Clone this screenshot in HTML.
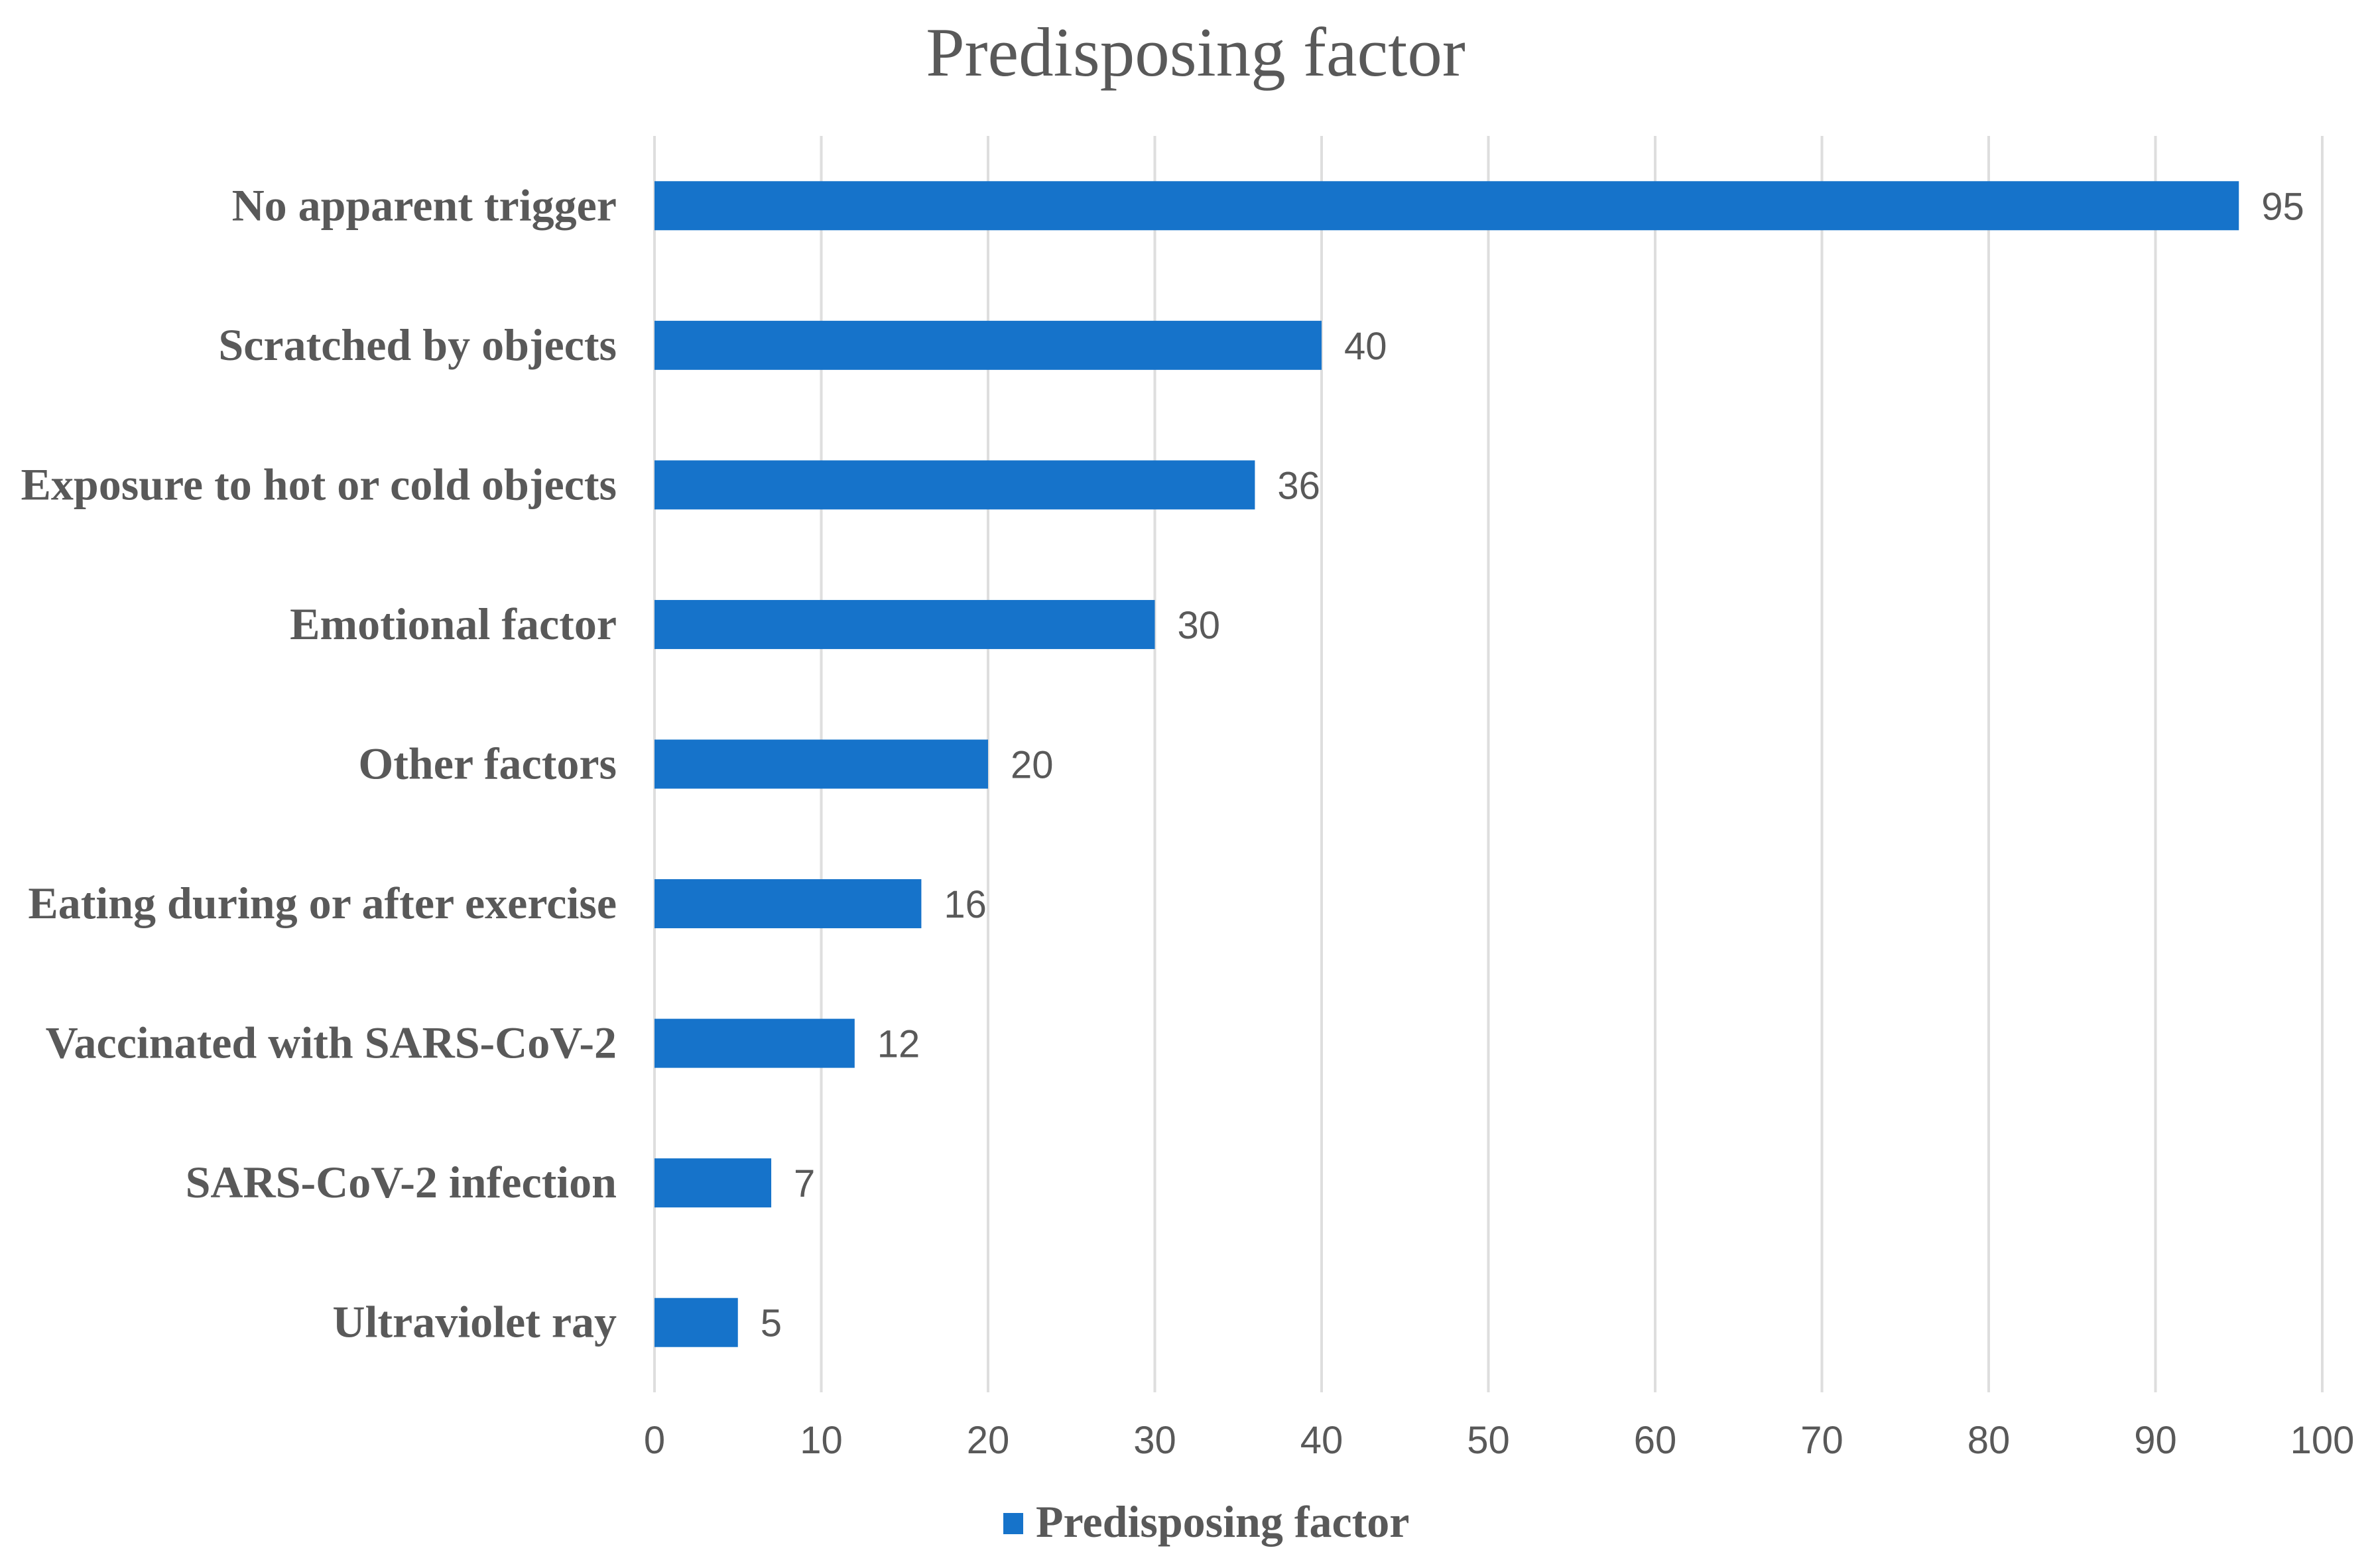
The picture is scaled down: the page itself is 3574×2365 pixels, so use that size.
<!DOCTYPE html>
<html><head><meta charset="utf-8"><style>
html,body{margin:0;padding:0;background:#fff;}
svg{display:block;}
</style></head><body>
<svg id="chart" width="3574" height="2365" viewBox="0 0 3574 2365" xmlns="http://www.w3.org/2000/svg">
<rect width="3574" height="2365" fill="#fff"/>
<text x="1803" y="114" text-anchor="middle" font-family="Liberation Serif, serif" font-size="105" fill="#595959">Predisposing factor</text>
<g id="grid"></g>
<g id="bars"></g>
<g id="labels"></g>
<g id="ticks"></g>
<g>
<rect x="1513" y="2282" width="30" height="32" fill="#1673CA"/>
<text x="1562" y="2318" font-family="Liberation Serif, serif" font-weight="bold" font-size="68" fill="#595959">Predisposing factor</text>
</g>
</svg>
<script>
const categories = ["No apparent trigger","Scratched by objects","Exposure to hot or cold objects","Emotional factor","Other factors","Eating during or after exercise","Vaccinated with SARS-CoV-2","SARS-CoV-2 infection","Ultraviolet ray"];
const values = [95,40,36,30,20,16,12,7,5];
const tickValues = [0,10,20,30,40,50,60,70,80,90,100];
const NS="http://www.w3.org/2000/svg";
const x0=987,x1=3502,yTop=205,yBot=2100,xMax=100;
const xs=v=>x0+(v/xMax)*(x1-x0);
const band=(yBot-yTop)/categories.length;
const yc=i=>yTop+band*(i+0.5);
function mk(tag,attrs,parent){const e=document.createElementNS(NS,tag);for(const k in attrs)e.setAttribute(k,attrs[k]);parent.appendChild(e);return e;}
const grid=document.getElementById('grid'),bars=document.getElementById('bars'),labels=document.getElementById('labels'),ticks=document.getElementById('ticks');
tickValues.forEach(t=>{
  const l=mk('line',{x1:xs(t),x2:xs(t),y1:yTop,y2:yBot,stroke:'#dedede','stroke-width':4},grid);
  
  
  const tx=mk('text',{x:xs(t),y:2192,'text-anchor':'middle','font-family':'Liberation Sans, sans-serif','font-size':58,fill:'#595959'},ticks);
  tx.textContent=t;
  
  
});
const bh=74;
categories.forEach((c,i)=>{
  const r=mk('rect',{x:xs(0),y:yc(i)-bh/2,width:xs(values[i])-xs(0),height:bh,fill:'#1673CA'},bars);
  
  
  const v=mk('text',{x:xs(values[i])+34,y:yc(i)+21,'font-family':'Liberation Sans, sans-serif','font-size':58,fill:'#595959'},bars);
  v.textContent=values[i];
  
  
  const t=mk('text',{x:930,y:yc(i)+22,'text-anchor':'end','font-family':'Liberation Serif, serif','font-weight':'bold','font-size':68,fill:'#595959'},labels);
  t.textContent=c;
  
  
});
</script>
</body></html>
